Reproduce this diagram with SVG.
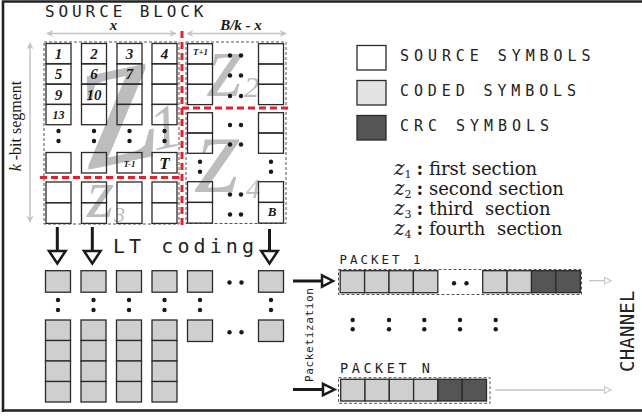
<svg xmlns="http://www.w3.org/2000/svg" width="642" height="417" viewBox="0 0 642 417">
<defs>
<style>
.bx{fill:none;stroke:#2a2a2a;stroke-width:1.3}
.cd{fill:#cfcfcf;stroke:#2a2a2a;stroke-width:1.3}
.crc{fill:#555;stroke:#2a2a2a;stroke-width:1.3}
.dash{fill:none;stroke:#555;stroke-width:1;stroke-dasharray:3,2}
.red{fill:none;stroke:#e8202a;stroke-width:3;stroke-dasharray:7,4}
.dot{fill:#1a1a1a}
.num{font-family:"Liberation Serif",serif;font-weight:bold;font-style:italic;fill:#1a1a1a;text-anchor:middle}
.mono{font-family:"DejaVu Sans Mono","Liberation Mono",monospace;fill:#222}
.zz{font-family:"Liberation Serif",serif;font-style:italic;fill:#bdbdbd}
.leg{font-family:"DejaVu Serif",serif;font-size:18px;fill:#1a1a1a;white-space:pre}
.gl{stroke:#c4c4c4;stroke-width:1.5;fill:none}
.blk{stroke:#1a1a1a;stroke-width:3;fill:none}
.head{fill:#fff;stroke:#1a1a1a;stroke-width:2.5;stroke-linejoin:miter}
</style>
<marker id="ga" viewBox="0 0 10 10" refX="9" refY="5" markerWidth="9" markerHeight="7" markerUnits="userSpaceOnUse" orient="auto-start-reverse">
<path d="M0,0 L10,5 L0,10 L3,5 Z" fill="#c4c4c4"/>
</marker>
<marker id="ca" viewBox="0 0 10 10" refX="9" refY="5" markerWidth="9" markerHeight="8" markerUnits="userSpaceOnUse" orient="auto">
<path d="M1,1 L9,5 L1,9 Z" fill="#fff" stroke="#c4c4c4" stroke-width="1.3"/>
</marker>
</defs>
<rect width="642" height="417" fill="#fff"/>
<path d="M3,412 L3,1.5 L642,1.5 M3,410.5 L642,410.5" fill="none" stroke="#222" stroke-width="2.6"/>

<g id="source-block">
<text class="mono" x="45" y="16.5" font-size="16" textLength="158.5" lengthAdjust="spacing">SOURCE BLOCK</text>
<text class="num" x="113.5" y="30" font-size="15">x</text>
<text class="num" x="241" y="30" font-size="15">B/k - x</text>
<text x="21" y="126" transform="rotate(-90 21 126)" font-family="Liberation Serif,serif" font-size="16" fill="#1a1a1a" text-anchor="middle"><tspan font-style="italic">k</tspan> -bit segment</text>

<text class="zz" x="80" y="162" font-size="200" transform="rotate(-12 120 115)">z</text>
<text class="zz" x="146" y="157" font-size="62" transform="rotate(-12 120 115)">1</text>
<text class="zz" x="208" y="96" font-size="90">z</text>
<text class="zz" x="244" y="97" font-size="30">2</text>
<text class="zz" x="87" y="217" font-size="70">z</text>
<text class="zz" x="114" y="222" font-size="22">3</text>
<text class="zz" x="196" y="192" font-size="115">z</text>
<text class="zz" x="246" y="198" font-size="28">4</text>

<rect class="dash" x="44" y="42" width="135" height="182"/>
<rect class="dash" x="186" y="42" width="100" height="181.5"/>

<g>
<rect class="bx" x="46" y="43.5" width="25" height="20.3"/><rect class="bx" x="81.5" y="43.5" width="25" height="20.3"/><rect class="bx" x="117" y="43.5" width="25" height="20.3"/><rect class="bx" x="152" y="43.5" width="25" height="20.3"/>
<rect class="bx" x="46" y="63.8" width="25" height="20.3"/><rect class="bx" x="81.5" y="63.8" width="25" height="20.3"/><rect class="bx" x="117" y="63.8" width="25" height="20.3"/><rect class="bx" x="152" y="63.8" width="25" height="20.3"/>
<rect class="bx" x="46" y="84.1" width="25" height="20.3"/><rect class="bx" x="81.5" y="84.1" width="25" height="20.3"/><rect class="bx" x="117" y="84.1" width="25" height="20.3"/><rect class="bx" x="152" y="84.1" width="25" height="20.3"/>
<rect class="bx" x="46" y="104.4" width="25" height="20.3"/><rect class="bx" x="81.5" y="104.4" width="25" height="20.3"/><rect class="bx" x="117" y="104.4" width="25" height="20.3"/><rect class="bx" x="152" y="104.4" width="25" height="20.3"/>
<rect class="bx" x="46" y="152.5" width="25" height="20.5"/><rect class="bx" x="81.5" y="152.5" width="25" height="20.5"/><rect class="bx" x="117" y="152.5" width="25" height="20.5"/><rect class="bx" x="152" y="152.5" width="25" height="20.5"/>
<rect class="bx" x="46" y="182" width="25" height="20.7"/><rect class="bx" x="81.5" y="182" width="25" height="20.7"/><rect class="bx" x="117" y="182" width="25" height="20.7"/><rect class="bx" x="152" y="182" width="25" height="20.7"/>
<rect class="bx" x="46" y="202.7" width="25" height="20.7"/><rect class="bx" x="81.5" y="202.7" width="25" height="20.7"/><rect class="bx" x="117" y="202.7" width="25" height="20.7"/><rect class="bx" x="152" y="202.7" width="25" height="20.7"/>
</g>
<g>
<rect class="bx" x="187.5" y="43.7" width="25" height="20.3"/><rect class="bx" x="258.5" y="43.7" width="25" height="20.3"/>
<rect class="bx" x="187.5" y="64" width="25" height="20.3"/><rect class="bx" x="258.5" y="64" width="25" height="20.3"/>
<rect class="bx" x="187.5" y="84.3" width="25" height="20.3"/><rect class="bx" x="258.5" y="84.3" width="25" height="20.3"/>
<rect class="bx" x="187.5" y="112.7" width="25" height="20.3"/><rect class="bx" x="258.5" y="112.7" width="25" height="20.3"/>
<rect class="bx" x="187.5" y="133" width="25" height="20.3"/><rect class="bx" x="258.5" y="133" width="25" height="20.3"/>
<rect class="bx" x="187.5" y="181.7" width="25" height="20.7"/><rect class="bx" x="258.5" y="181.7" width="25" height="20.7"/>
<rect class="bx" x="187.5" y="202.4" width="25" height="20.7"/><rect class="bx" x="258.5" y="202.4" width="25" height="20.7"/>
</g>
<g>
<circle class="dot" cx="58.5" cy="131" r="2.2"/><circle class="dot" cx="58.5" cy="141" r="2.2"/>
<circle class="dot" cx="94" cy="131" r="2.2"/><circle class="dot" cx="94" cy="141" r="2.2"/>
<circle class="dot" cx="129.5" cy="131" r="2.2"/><circle class="dot" cx="129.5" cy="141" r="2.2"/>
<circle class="dot" cx="164.5" cy="131" r="2.2"/><circle class="dot" cx="164.5" cy="141" r="2.2"/>
<circle class="dot" cx="230" cy="55.5" r="2.2"/><circle class="dot" cx="241" cy="55.5" r="2.2"/>
<circle class="dot" cx="230" cy="75.5" r="2.2"/><circle class="dot" cx="241" cy="75.5" r="2.2"/>
<circle class="dot" cx="230" cy="96" r="2.2"/><circle class="dot" cx="241" cy="96" r="2.2"/>
<circle class="dot" cx="230" cy="125" r="2.2"/><circle class="dot" cx="241" cy="125" r="2.2"/>
<circle class="dot" cx="230" cy="144.5" r="2.2"/><circle class="dot" cx="241" cy="144.5" r="2.2"/>
<circle class="dot" cx="230" cy="194.5" r="2.2"/><circle class="dot" cx="241" cy="194.5" r="2.2"/>
<circle class="dot" cx="230" cy="214.5" r="2.2"/><circle class="dot" cx="241" cy="214.5" r="2.2"/>
<circle class="dot" cx="200" cy="161.7" r="2.2"/><circle class="dot" cx="200" cy="171.7" r="2.2"/>
<circle class="dot" cx="271" cy="161.7" r="2.2"/><circle class="dot" cx="271" cy="171.7" r="2.2"/>
</g>
<g>
<text class="num" x="58.5" y="59" font-size="15">1</text>
<text class="num" x="94" y="59" font-size="15">2</text>
<text class="num" x="129.5" y="59" font-size="15">3</text>
<text class="num" x="164.5" y="59" font-size="15">4</text>
<text class="num" x="58.5" y="79.3" font-size="15">5</text>
<text class="num" x="94" y="79.3" font-size="15">6</text>
<text class="num" x="129.5" y="79.3" font-size="15" font-weight="normal">7</text>
<text class="num" x="58.5" y="99.6" font-size="15">9</text>
<text class="num" x="94" y="99.6" font-size="15">10</text>
<text class="num" x="58.5" y="119" font-size="12">13</text>
<text class="num" x="129.5" y="167" font-size="9">T-1</text>
<text class="num" x="164.5" y="169" font-size="17">T</text>
<text class="num" x="200.5" y="55" font-size="9">T+1</text>
<text class="num" x="272" y="216" font-size="13">B</text>
</g>
<path class="red" d="M182,31 L182,227 M40,177.5 L182,177.5 M182,108 L289,108"/>
</g>

<g id="legend">
<rect x="357" y="45.5" width="29" height="24.5" fill="#fff" stroke="#2a2a2a" stroke-width="1.3"/>
<rect x="357" y="80.5" width="29" height="24.5" fill="#e3e3e3" stroke="#2a2a2a" stroke-width="1.3"/>
<rect x="357" y="115.5" width="29" height="24.5" fill="#555" stroke="#2a2a2a" stroke-width="1.3"/>
<text class="mono" x="400" y="61" font-size="15" textLength="190.5" lengthAdjust="spacing">SOURCE SYMBOLS</text>
<text class="mono" x="400" y="96" font-size="15" textLength="176" lengthAdjust="spacing">CODED SYMBOLS</text>
<text class="mono" x="400" y="130.5" font-size="15" textLength="149" lengthAdjust="spacing">CRC SYMBOLS</text>
</g>

<g id="sections">
<text class="leg" x="394" y="175" xml:space="preserve"><tspan font-style="italic" font-size="20">z</tspan><tspan font-size="11" dy="3">1</tspan><tspan font-weight="bold" dy="-3" dx="5">:</tspan> first section</text>
<text class="leg" x="394" y="195" xml:space="preserve"><tspan font-style="italic" font-size="20">z</tspan><tspan font-size="11" dy="3">2</tspan><tspan font-weight="bold" dy="-3" dx="5">:</tspan> second section</text>
<text class="leg" x="394" y="215" xml:space="preserve"><tspan font-style="italic" font-size="20">z</tspan><tspan font-size="11" dy="3">3</tspan><tspan font-weight="bold" dy="-3" dx="5">:</tspan> third  section</text>
<text class="leg" x="394" y="235" xml:space="preserve"><tspan font-style="italic" font-size="20">z</tspan><tspan font-size="11" dy="3">4</tspan><tspan font-weight="bold" dy="-3" dx="5">:</tspan> fourth  section</text>
</g>

<g id="coded-symbols">
<text class="mono" x="113" y="253.3" font-size="20" textLength="141" lengthAdjust="spacing">LT coding</text>
<rect class="cd" x="45.5" y="270.7" width="25" height="21.5"/><rect class="cd" x="81" y="270.7" width="25" height="21.5"/><rect class="cd" x="116.5" y="270.7" width="25" height="21.5"/><rect class="cd" x="152" y="270.7" width="25" height="21.5"/><rect class="cd" x="187.5" y="270.7" width="25" height="21.5"/><rect class="cd" x="258.5" y="270.7" width="25" height="21.5"/>
<rect class="cd" x="45.5" y="320" width="25" height="20.5"/><rect class="cd" x="81" y="320" width="25" height="20.5"/><rect class="cd" x="116.5" y="320" width="25" height="20.5"/><rect class="cd" x="152" y="320" width="25" height="20.5"/><rect class="cd" x="187.5" y="320" width="25" height="21.5"/><rect class="cd" x="258.5" y="320" width="25" height="21.5"/>
<rect class="cd" x="45.5" y="340.5" width="25" height="20.5"/><rect class="cd" x="81" y="340.5" width="25" height="20.5"/><rect class="cd" x="116.5" y="340.5" width="25" height="20.5"/><rect class="cd" x="152" y="340.5" width="25" height="20.5"/>
<rect class="cd" x="45.5" y="361" width="25" height="20.5"/><rect class="cd" x="81" y="361" width="25" height="20.5"/><rect class="cd" x="116.5" y="361" width="25" height="20.5"/><rect class="cd" x="152" y="361" width="25" height="20.5"/>
<rect class="cd" x="45.5" y="381.5" width="25" height="20.5"/><rect class="cd" x="81" y="381.5" width="25" height="20.5"/><rect class="cd" x="116.5" y="381.5" width="25" height="20.5"/><rect class="cd" x="152" y="381.5" width="25" height="20.5"/>
<circle class="dot" cx="58" cy="300" r="2.2"/><circle class="dot" cx="58" cy="310" r="2.2"/>
<circle class="dot" cx="93.5" cy="300" r="2.2"/><circle class="dot" cx="93.5" cy="310" r="2.2"/>
<circle class="dot" cx="129" cy="300" r="2.2"/><circle class="dot" cx="129" cy="310" r="2.2"/>
<circle class="dot" cx="164.5" cy="300" r="2.2"/><circle class="dot" cx="164.5" cy="310" r="2.2"/>
<circle class="dot" cx="200" cy="300" r="2.2"/><circle class="dot" cx="200" cy="310" r="2.2"/>
<circle class="dot" cx="271" cy="300" r="2.2"/><circle class="dot" cx="271" cy="310" r="2.2"/>
<circle class="dot" cx="229.5" cy="282.5" r="2.2"/><circle class="dot" cx="241.5" cy="282.5" r="2.2"/>
<circle class="dot" cx="229.5" cy="332.3" r="2.2"/><circle class="dot" cx="241.5" cy="332.3" r="2.2"/>
</g>

<g id="packet-1">
<text class="mono" x="339.5" y="264" font-size="12.5" textLength="81" lengthAdjust="spacing">PACKET 1</text>
<rect class="dash" x="338.5" y="269.5" width="243" height="25"/>
<rect class="cd" x="340.2" y="270.7" width="24.4" height="22"/><rect class="cd" x="364.6" y="270.7" width="24.4" height="22"/><rect class="cd" x="389" y="270.7" width="24.4" height="22"/><rect class="cd" x="413.4" y="270.7" width="24.4" height="22"/>
<circle class="dot" cx="454" cy="283.3" r="2.2"/><circle class="dot" cx="466.5" cy="283.3" r="2.2"/>
<rect class="cd" x="482.7" y="270.7" width="24.4" height="22"/><rect class="cd" x="507.1" y="270.7" width="24.4" height="22"/>
<rect class="crc" x="531.5" y="270.7" width="24.4" height="22"/><rect class="crc" x="555.9" y="270.7" width="24.4" height="22"/>
</g>

<g id="packet-n">
<text class="mono" x="340" y="373.3" font-size="13.5" textLength="90" lengthAdjust="spacing">PACKET N</text>
<rect class="dash" x="338.5" y="377.7" width="151.5" height="25.6"/>
<rect class="cd" x="340.7" y="379.3" width="24.3" height="21.7"/><rect class="cd" x="365" y="379.3" width="24.3" height="21.7"/><rect class="cd" x="389.3" y="379.3" width="24.3" height="21.7"/><rect class="cd" x="413.6" y="379.3" width="24.3" height="21.7"/>
<rect class="crc" x="437.9" y="379.3" width="24.3" height="21.7"/><rect class="crc" x="462.2" y="379.3" width="24.3" height="21.7"/>
</g>

<g id="packet-dots">
<circle class="dot" cx="352.7" cy="320" r="2.2"/><circle class="dot" cx="352.7" cy="329.3" r="2.2"/>
<circle class="dot" cx="389" cy="320" r="2.2"/><circle class="dot" cx="389" cy="329.3" r="2.2"/>
<circle class="dot" cx="424.3" cy="320" r="2.2"/><circle class="dot" cx="424.3" cy="329.3" r="2.2"/>
<circle class="dot" cx="460" cy="320" r="2.2"/><circle class="dot" cx="460" cy="329.3" r="2.2"/>
<circle class="dot" cx="495.7" cy="320" r="2.2"/><circle class="dot" cx="495.7" cy="329.3" r="2.2"/>
</g>

<g id="channel">
<text class="mono" x="634" y="372" font-size="19" textLength="81.5" lengthAdjust="spacing" transform="rotate(-90 634 372)">CHANNEL</text>
</g>

<g id="connectors">
<line class="gl" x1="47" y1="33.5" x2="176" y2="33.5" marker-start="url(#ga)" marker-end="url(#ga)"/>
<line class="gl" x1="187" y1="33.5" x2="286" y2="33.5" marker-start="url(#ga)" marker-end="url(#ga)"/>
<line class="gl" x1="30" y1="43" x2="30" y2="222" marker-start="url(#ga)" marker-end="url(#ga)"/>
<line class="blk" x1="57.3" y1="227" x2="57.3" y2="252"/>
<polygon class="head" points="49,251 65.6,251 57.3,263.5"/>
<line class="blk" x1="92.3" y1="227" x2="92.3" y2="252"/>
<polygon class="head" points="84,251 100.6,251 92.3,263.5"/>
<line class="blk" x1="269.5" y1="229" x2="269.5" y2="252"/>
<polygon class="head" points="261.2,251 277.8,251 269.5,263.5"/>
<line class="blk" x1="293" y1="281" x2="323" y2="281"/>
<polygon class="head" points="322,275.3 333,281 322,286.7"/>
<line class="blk" x1="293" y1="389.5" x2="324" y2="389.5"/>
<polygon class="head" points="323,383.8 334.5,389.5 323,395.2"/>
<line x1="589" y1="280.7" x2="611" y2="280.7" stroke="#c4c4c4" stroke-width="1.3" marker-end="url(#ca)"/>
<line x1="495" y1="390" x2="611" y2="390" stroke="#c4c4c4" stroke-width="1.3" marker-end="url(#ca)"/>
<text class="mono" x="313" y="382" font-size="11" textLength="94" lengthAdjust="spacing" transform="rotate(-90 313 382)">Packetization</text>
</g>
</svg>
